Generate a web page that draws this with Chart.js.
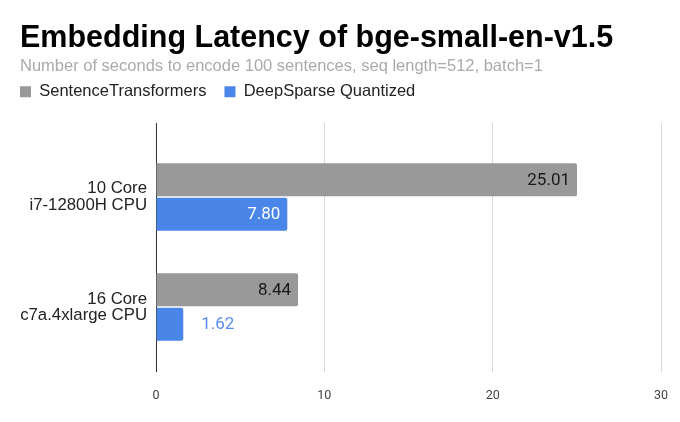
<!DOCTYPE html>
<html>
<head>
<meta charset="utf-8">
<script src="https://cdn.jsdelivr.net/npm/chart.js@4.4.1/dist/chart.umd.min.js"></script>
<style>
  html, body { margin: 0; padding: 0; background: #fff; }
  #wrap { width: 680px; height: 422px; }
</style>
</head>
<body>
<div id="wrap"><canvas id="latencyChart" width="680" height="422"></canvas></div>
<script>
const categories = [
  ['10 Core', 'i7-12800H CPU'],
  ['16 Core', 'c7a.4xlarge CPU']
];
const sentenceTransformers = [25.01, 8.44];
const deepSparseQuantized = [7.80, 1.62];
const xTicks = [0, 10, 20, 30];

const GRAY = '#999999';
const BLUE = '#4a86e8';
const SANS = "'Liberation Sans', Arial, sans-serif";

// dark line at 0, light grid elsewhere
const gridColor = (ctx) => (ctx.tick && ctx.tick.value === 0 ? '#333333' : '#d9d9d9');

// draws the value at the end of each bar, inside when it fits
const valueLabels = {
  id: 'valueLabels',
  afterDatasetsDraw(chart) {
    const ctx = chart.ctx;
    ctx.save();
    ctx.font = '17px Roboto';
    ctx.textBaseline = 'middle';
    chart.data.datasets.forEach((ds, i) => {
      const meta = chart.getDatasetMeta(i);
      meta.data.forEach((bar, j) => {
        const text = ds.data[j].toFixed(2);
        const w = ctx.measureText(text).width;
        if (w + 16 < bar.x - bar.base) {
          ctx.textAlign = 'right';
          ctx.fillStyle = ds.backgroundColor === BLUE ? '#ffffff' : '#1a1a1a';
          ctx.fillText(text, bar.x - 7, bar.y + 1);
        } else {
          ctx.textAlign = 'left';
          ctx.fillStyle = '#5b8def';
          ctx.fillText(text, bar.x + 18, bar.y + 1);
        }
      });
    });
    ctx.restore();
  }
};

// move legend to the left edge so it lines up with the title, and up a bit
const legendShift = {
  id: 'legendShift',
  afterLayout(chart) {
    if (chart.legend) {
      chart.legend.left -= 18;
      chart.legend.top -= 13;
    }
  }
};

new Chart(document.getElementById('latencyChart'), {
  type: 'bar',
  data: {
    labels: categories,
    datasets: [
      {
        label: 'SentenceTransformers',
        data: sentenceTransformers,
        backgroundColor: GRAY,
        borderRadius: 2,
        barPercentage: 0.955,
        categoryPercentage: 0.627
      },
      {
        label: 'DeepSparse Quantized',
        data: deepSparseQuantized,
        backgroundColor: BLUE,
        borderRadius: 2,
        barPercentage: 0.955,
        categoryPercentage: 0.627
      }
    ]
  },
  options: {
    indexAxis: 'y',
    responsive: false,
    animation: false,
    devicePixelRatio: 1,
    layout: { padding: { left: 20, right: 19, top: 0, bottom: 0 } },
    plugins: {
      title: {
        display: true,
        text: 'Embedding Latency of bge-small-en-v1.5',
        align: 'start',
        color: '#000000',
        font: { family: SANS, size: 30.5, weight: 'bold' },
        padding: { top: 20, bottom: 0 }
      },
      subtitle: {
        display: true,
        text: 'Number of seconds to encode 100 sentences, seq length=512, batch=1',
        align: 'start',
        color: '#aaaaaa',
        font: { family: SANS, size: 16.5 },
        padding: { top: 0, bottom: 2 }
      },
      legend: {
        position: 'top',
        align: 'start',
        labels: {
          color: '#222222',
          font: { family: SANS, size: 16.5 },
          boxWidth: 11,
          boxHeight: 11,
          padding: 18
        }
      },
      tooltip: { enabled: false }
    },
    scales: {
      x: {
        position: 'bottom',
        min: 0,
        max: 30,
        afterBuildTicks: (scale) => { scale.ticks = xTicks.map(v => ({ value: v })); },
        afterFit: (scale) => {
          scale.height = 60;
          scale.paddingLeft = 0;
          scale.paddingRight = 0;
        },
        ticks: {
          color: '#444444',
          font: { family: 'Roboto', size: 12.5 },
          padding: 16
        },
        grid: { color: gridColor, tickColor: gridColor, tickLength: 10 },
        border: { display: false }
      },
      xTop: {
        axis: 'x',
        type: 'linear',
        position: 'top',
        min: 0,
        max: 30,
        afterBuildTicks: (scale) => { scale.ticks = xTicks.map(v => ({ value: v })); },
        afterFit: (scale) => {
          scale.height = 19;
          scale.paddingLeft = 0;
          scale.paddingRight = 0;
        },
        ticks: { display: false },
        grid: { drawOnChartArea: false, tickColor: gridColor, tickLength: 19 },
        border: { display: false }
      },
      y: {
        afterFit: (scale) => { scale.width = 136; },
        ticks: {
          color: '#222222',
          font: { family: SANS, size: 16.8, lineHeight: 0.96 },
          padding: 9
        },
        grid: { display: false, drawTicks: false },
        border: { display: false }
      }
    }
  },
  plugins: [valueLabels, legendShift]
});
</script>
</body>
</html>
